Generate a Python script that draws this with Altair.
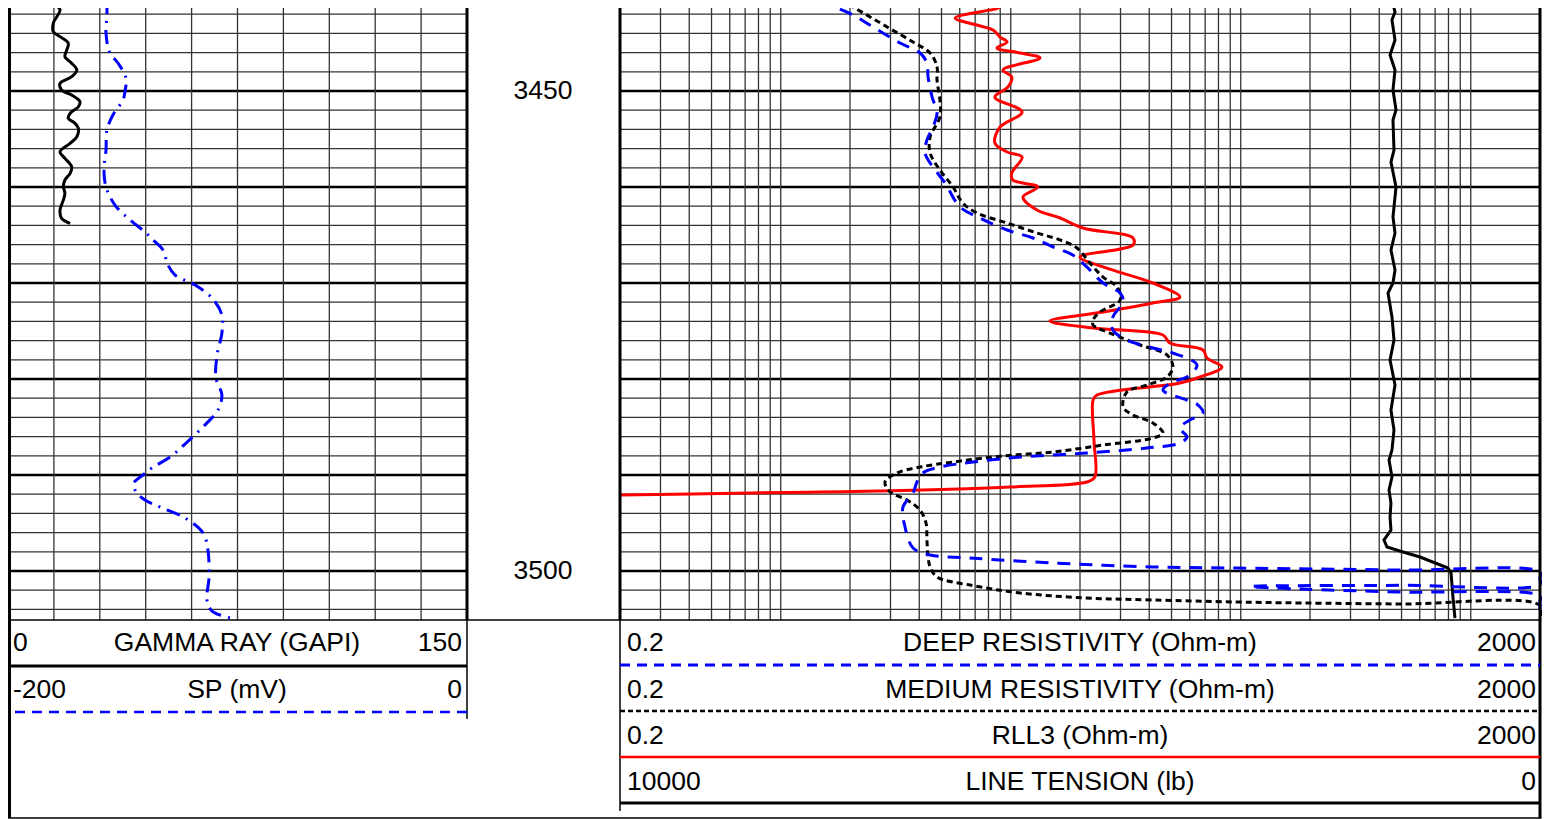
import altair as alt
import pandas as pd

gr_depth = [3440.52, 3441.04, 3441.56, 3442.95, 3443.82, 3444.34, 3445.03, 3445.73, 3446.43, 3447.11,
            3447.81, 3448.51, 3449.20, 3449.90, 3450.42, 3451.11, 3451.64, 3452.32, 3452.84, 3453.36,
            3453.89, 3454.76, 3455.45, 3456.32, 3457.01, 3457.89, 3458.57, 3459.27, 3459.97, 3460.66,
            3461.35, 3462.40, 3463.26, 3463.78]
gr_api = [16.8, 15.9, 17.0, 14.8, 14.8, 17.0, 19.7, 19.2, 18.6, 20.8,
          22.5, 20.8, 17.0, 17.5, 20.8, 23.5, 23.0, 20.3, 19.7, 21.9,
          23.0, 22.5, 20.3, 17.0, 18.6, 20.8, 20.3, 18.6, 18.1, 18.6,
          18.1, 17.0, 17.5, 20.3]

sp_depth = [3440.52, 3442.08, 3443.96, 3446.04, 3447.08, 3448.65, 3450.0, 3450.94, 3452.5, 3454.06,
            3456.15, 3458.23, 3460.0, 3461.88, 3463.44, 3464.69, 3465.52, 3466.56, 3468.13, 3469.17,
            3470.21, 3471.56, 3473.33, 3475.21, 3477.5, 3479.9, 3481.67, 3483.23, 3484.79, 3486.67,
            3488.13, 3489.27, 3490.0, 3490.83, 3491.77, 3492.6, 3493.33, 3494.48, 3496.04, 3497.81,
            3500.63, 3503.02, 3504.17, 3505.0]
sp_mv = [-156.9, -156.9, -157.3, -155.6, -152.1, -148.6, -149.0, -149.9, -154.3, -156.9,
         -157.3, -158.2, -157.3, -153.4, -146.8, -140.3, -136.8, -132.5, -130.3, -127.2,
         -118.5, -111.1, -106.8, -106.8, -108.9, -109.4, -106.8, -108.5, -114.2, -122.4,
         -129.4, -137.3, -141.2, -145.1, -144.2, -140.3, -133.8, -122.9, -115.0, -112.9,
         -112.4, -113.3, -111.1, -101.1]

deep_depth = [3440.52, 3441.04, 3442.08, 3443.13, 3445.0, 3446.04, 3447.08, 3448.54, 3450.63, 3452.29,
              3453.75, 3455.10, 3456.46, 3457.92, 3459.58, 3462.08, 3463.23, 3464.48, 3465.31, 3466.25,
              3467.08, 3468.33, 3470.0, 3471.04, 3471.98, 3473.54, 3474.9, 3475.94, 3476.77, 3477.29,
              3478.54, 3479.79, 3480.31, 3481.15, 3482.19, 3482.71, 3483.54, 3484.27, 3485.10, 3486.04,
              3486.67, 3487.19, 3487.71, 3488.13, 3488.65, 3489.17, 3489.79, 3490.73, 3491.88, 3493.33,
              3495.42, 3497.60, 3498.33, 3498.65, 3499.17, 3499.58, 3499.69, 3499.90, 3500.10, 3500.8,
              3501.41, 3501.49, 3501.61, 3501.88, 3502.19, 3502.6, 3503.2, 3505.1]
deep_ohmm = [1.48, 1.64, 2.06, 2.44, 3.30, 4.03, 4.32, 4.37, 4.55, 4.78,
             4.59, 4.32, 4.24, 4.59, 5.18, 6.02, 7.35, 9.64, 12.5, 15.3,
             18.6, 21.4, 25.2, 29.9, 30.8, 27.8, 27.8, 32.0, 41.5, 50.7,
             64.5, 58.3, 50.7, 45.9, 58.3, 65.2, 68.5, 60.1, 54.4, 58.3,
             54.4, 39.1, 21.4, 11.0, 6.85, 4.92, 4.15, 3.91, 3.76, 3.40,
             3.47, 3.76, 4.46, 6.65, 15.3, 41.5, 96.4, 492, 2000, 5000,
             2000, 492, 110, 181, 492, 2000, 5000, 5000]

med_depth = [3440.52, 3441.25, 3443.33, 3444.90, 3446.04, 3447.5, 3448.85, 3450.94, 3452.71, 3454.79,
             3456.46, 3458.23, 3460.0, 3461.67, 3462.71, 3463.75, 3464.79, 3465.52, 3466.35, 3467.92,
             3469.38, 3470.42, 3471.77, 3473.02, 3473.85, 3474.38, 3475.21, 3476.46, 3477.5, 3478.75,
             3479.79, 3480.63, 3481.35, 3482.92, 3483.75, 3484.58, 3485.63, 3486.15, 3486.88, 3487.60,
             3488.02, 3488.65, 3489.17, 3489.79, 3490.73, 3491.77, 3492.60, 3493.65, 3495.0, 3496.77,
             3498.54, 3499.58, 3500.63, 3501.46, 3502.29, 3502.81, 3503.02, 3503.23, 3503.33, 3503.44,
             3503.6, 3505.1]
med_ohmm = [1.81, 2.06, 2.90, 3.76, 4.46, 4.78, 4.78, 4.92, 4.92, 4.46,
            4.46, 4.92, 5.61, 6.19, 7.13, 9.64, 13.0, 16.4, 19.4, 22.1,
            25.2, 29.0, 29.9, 24.4, 22.8, 22.8, 27.0, 36.5, 47.8, 50.7,
            47.8, 39.1, 32.0, 30.8, 34.0, 41.5, 45.9, 41.5, 25.2, 15.3,
            9.25, 5.61, 4.03, 3.20, 2.84, 2.99, 3.54, 4.03, 4.28, 4.32,
            4.37, 4.46, 4.78, 6.65, 11.0, 21.4, 41.5, 96.4, 181, 492,
            2000, 5000]

rll3_depth = [3440.52, 3441.25, 3442.40, 3443.13, 3443.65, 3444.38, 3444.90, 3445.52, 3446.04, 3446.56,
              3447.81, 3448.54, 3449.58, 3450.63, 3452.19, 3453.75, 3455.42, 3456.35, 3456.88, 3458.54,
              3459.27, 3460.0, 3461.04, 3462.40, 3463.23, 3464.27, 3465.31, 3466.04, 3467.29, 3468.33,
              3470.0, 3471.46, 3472.08, 3473.02, 3473.96, 3474.69, 3475.42, 3476.25, 3476.98, 3477.81,
              3478.75, 3479.79, 3480.42, 3481.67, 3482.19, 3486.35, 3490.21, 3490.73, 3491.25, 3491.67,
              3491.77, 3491.88, 3492.08]
rll3_ohmm = [4.78, 8.98, 5.73, 7.13, 8.38, 8.98, 9.64, 8.71, 11.0, 13.4,
             9.25, 10.1, 9.73, 8.53, 11.2, 8.98, 8.53, 9.64, 11.2, 10.1,
             10.2, 13.1, 11.3, 13.0, 16.4, 20.6, 34.0, 34.0, 20.0, 25.2,
             41.5, 54.4, 41.5, 25.2, 14.8, 22.8, 45.9, 49.2, 68.5, 71.3,
             82.8, 66.5, 54.4, 23.7, 22.8, 23.0, 23.2, 21.4, 9.92, 2.62,
             1.48, 0.735, 0.2]

ten_depth = [3440.52, 3441.77, 3442.60, 3444.69, 3446.25, 3447.81, 3449.90, 3451.98, 3453.02, 3456.15,
             3457.40, 3460.0, 3463.13, 3464.79, 3466.56, 3468.65, 3470.0, 3471.04, 3473.54, 3475.94,
             3478.02, 3480.63, 3483.23, 3485.31, 3487.40, 3488.44, 3490.21, 3491.56, 3492.92, 3494.38,
             3495.73, 3496.77, 3497.50, 3498.02, 3498.54, 3499.69, 3500.21, 3502.71, 3504.90]
ten_lb = [1609, 1576, 1609, 1576, 1630, 1576, 1598, 1565, 1598, 1587,
          1620, 1565, 1598, 1576, 1620, 1576, 1598, 1652, 1609, 1587,
          1630, 1576, 1620, 1587, 1609, 1641, 1609, 1641, 1620, 1630,
          1620, 1696, 1663, 1489, 1304, 1000, 967, 946, 924]

grid_minor_depths = [d for d in range(3442, 3506, 2) if d % 10 != 0]
grid_major_depths = [3450, 3460, 3470, 3480, 3490, 3500]
depth_labels = [3450, 3500]
gr_grid = [15, 30, 45, 60, 75, 90, 105, 120, 135]
res_grid = [0.3, 0.4, 0.5, 0.6, 0.7, 0.8, 0.9,
            1, 2, 3, 4, 5, 6, 7, 8, 9,
            10, 20, 30, 40, 50, 60, 70, 80, 90,
            100, 200, 300, 400, 500, 600, 700, 800, 900, 1000]

left_headers = [("0", "GAMMA RAY (GAPI)", "150"), ("-200", "SP (mV)", "0")]
right_headers = [("0.2", "DEEP RESISTIVITY (Ohm-m)", "2000"),
                 ("0.2", "MEDIUM RESISTIVITY (Ohm-m)", "2000"),
                 ("0.2", "RLL3 (Ohm-m)", "2000"),
                 ("10000", "LINE TENSION (lb)", "0")]

# ---------------- layout ----------------
W, H = 1534, 811
L0, L1 = 0, 459          # left track (px)
R0, R1 = 612, 1532       # right track (px)
TB = 612                 # track bottom (px)
FONT = "Liberation Sans"
FS = 26.5
LW = 3
GRID_C = "#333333"
GRID_W = 1.3

yscale = alt.Scale(domain=[3441.354, 3505.104], range=[0, TB], nice=False, zero=False)
Y = alt.Y("depth:Q", scale=yscale, axis=None)
gr_scale = alt.Scale(domain=[0, 150], range=[L0, L1], nice=False, zero=False)
sp_scale = alt.Scale(domain=[-200, 0], range=[L0, L1], nice=False, zero=False)
res_scale = alt.Scale(type="log", domain=[0.2, 2000], range=[R0, R1], nice=False, clamp=True)
ten_scale = alt.Scale(domain=[10000, 0], range=[R0, R1], nice=False, zero=False)

dummy = alt.Data(values=[{"a": 0}])


def hline(y, x0, x1, color="black", width=1.0, dash=None):
    kw = dict(color=color, strokeWidth=width)
    if dash:
        kw["strokeDash"] = dash
    return alt.Chart(dummy).mark_rule(**kw).encode(
        x=alt.value(x0), x2=alt.value(x1), y=alt.value(y))


def vline(x, y0, y1, color="black", width=1.0):
    return alt.Chart(dummy).mark_rule(color=color, strokeWidth=width).encode(
        x=alt.value(x), y=alt.value(y0), y2=alt.value(y1))


def label(text, x, y, align):
    return alt.Chart(dummy).mark_text(text=text, align=align, baseline="middle",
                                      font=FONT, fontSize=FS, color="black").encode(
        x=alt.value(x), y=alt.value(y))


def curve(depth, vals, scale, color, width, dash=None, interp="linear"):
    df = pd.DataFrame({"depth": depth, "v": vals})
    kw = dict(color=color, strokeWidth=width, clip=True, interpolate=interp)
    if dash:
        kw["strokeDash"] = dash
    return alt.Chart(df).mark_line(**kw).encode(
        x=alt.X("v:Q", scale=scale, axis=None), y=Y, order=alt.Order("depth:Q"))


layers = []

# horizontal grid
minor_df = pd.DataFrame({"depth": grid_minor_depths})
major_df = pd.DataFrame({"depth": grid_major_depths})
for x0, x1 in [(L0, L1), (R0, R1)]:
    layers.append(alt.Chart(minor_df).mark_rule(color=GRID_C, strokeWidth=GRID_W).encode(
        x=alt.value(x0), x2=alt.value(x1), y=Y))
    layers.append(alt.Chart(major_df).mark_rule(color="black", strokeWidth=2.5).encode(
        x=alt.value(x0), x2=alt.value(x1), y=Y))

# vertical grid
layers.append(alt.Chart(pd.DataFrame({"v": gr_grid})).mark_rule(color=GRID_C, strokeWidth=GRID_W).encode(
    x=alt.X("v:Q", scale=gr_scale, axis=None), y=alt.value(0), y2=alt.value(TB)))
layers.append(alt.Chart(pd.DataFrame({"v": res_grid})).mark_rule(color=GRID_C, strokeWidth=GRID_W).encode(
    x=alt.X("v:Q", scale=res_scale, axis=None), y=alt.value(0), y2=alt.value(TB)))

# curves
layers.append(curve(gr_depth, gr_api, gr_scale, "black", LW, interp="catmull-rom"))
layers.append(curve(sp_depth, sp_mv, sp_scale, "#0000ff", LW, dash=[14, 7, 2, 7], interp="catmull-rom"))
layers.append(curve(ten_depth, ten_lb, ten_scale, "black", LW))
layers.append(curve(rll3_depth, rll3_ohmm, res_scale, "#ff0000", LW, interp="catmull-rom"))
layers.append(curve(med_depth, med_ohmm, res_scale, "black", LW, dash=[6, 4], interp="catmull-rom"))
layers.append(curve(deep_depth, deep_ohmm, res_scale, "#0000ff", LW, dash=[13, 9], interp="catmull-rom"))

# track frames
layers.append(vline(1.5, 0, 810, width=3))
layers.append(vline(L1, 0, TB, width=3))
layers.append(vline(L1, TB, 711, width=1.5))
layers.append(vline(R0, 0, TB, width=3))
layers.append(vline(R0, TB, 803, width=1.5))
layers.append(vline(R1, 0, 810, width=3))
layers.append(hline(TB, 0, R1, width=1.5))
layers.append(hline(810, 0, R1 + 1.5, width=1.5))

# depth labels
layers.append(alt.Chart(pd.DataFrame({"depth": depth_labels})).mark_text(
    font=FONT, fontSize=FS, color="black", align="center", baseline="middle").encode(
    x=alt.value(535), y=Y, text=alt.Text("depth:Q", format="d")))

# header: left
row_y_left = [635, 682]
for (lo, name, hi), yy in zip(left_headers, row_y_left):
    layers.append(label(lo, 5, yy, "left"))
    layers.append(label(name, 229, yy, "center"))
    layers.append(label(hi, 454, yy, "right"))
layers.append(hline(658, 0, L1, width=3))
layers.append(hline(704, 7, L1, color="#0000ff", width=2.5, dash=[10, 7]))

# header: right
row_y_right = [635, 682, 728, 774]
for (lo, name, hi), yy in zip(right_headers, row_y_right):
    layers.append(label(lo, 619, yy, "left"))
    layers.append(label(name, 1072, yy, "center"))
    layers.append(label(hi, 1528, yy, "right"))
layers.append(hline(657, R0, R1, color="#0000ff", width=3, dash=[10, 7]))
layers.append(hline(703, R0, R1, color="black", width=2.5, dash=[5, 3]))
layers.append(hline(749, R0, R1, color="#ff0000", width=2.5))
layers.append(hline(795, R0, R1, color="black", width=3))

chart = alt.layer(*layers).resolve_scale(x="independent").properties(
    width=W, height=H, padding=0, autosize=alt.AutoSizeParams(type="none"),
    background="white"
).configure_view(stroke=None)

chart.save("out.html", embed_options={"renderer": "svg", "actions": False})
